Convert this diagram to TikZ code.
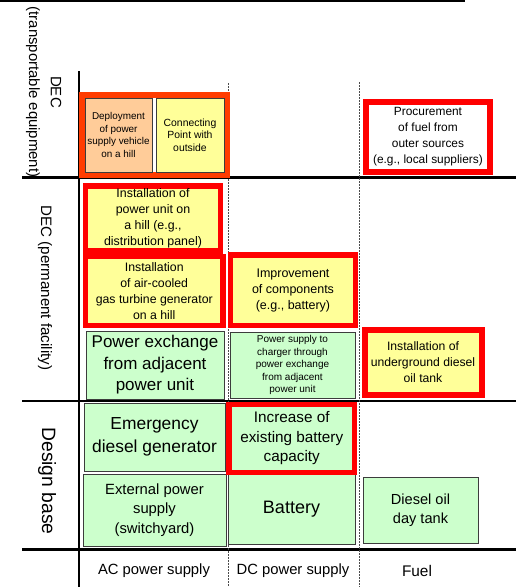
\documentclass[tikz,border=0pt]{standalone}
\usepackage{fontspec}
\setmainfont{Liberation Sans}
\newcommand\fsz[2]{\fontsize{#1}{#2}\selectfont}
\definecolor{boxyellow}{RGB}{255,255,153}
\definecolor{boxgreen}{RGB}{204,255,204}
\definecolor{boxpeach}{RGB}{255,204,153}
\definecolor{framered}{RGB}{255,0,0}
\definecolor{frameorange}{RGB}{255,60,0}
\definecolor{thinborder}{RGB}{60,60,60}
\tikzset{
  plainbox/.style={draw=thinborder,line width=0.9pt,inner sep=0pt,align=center,text=black},
  greenbox/.style={plainbox,fill=boxgreen},
  yellowbox/.style={plainbox,fill=boxyellow},
  peachbox/.style={plainbox,fill=boxpeach},
  redbox/.style={draw=framered,line width=5.5pt,inner sep=0pt,align=center,fill=boxyellow},
  axisline/.style={line width=2.5pt,black},
  dotline/.style={line width=0.8pt,draw=black!70,dash pattern=on 1.5pt off 1.5pt},
  sidelabel/.style={rotate=-90,inner sep=0pt,align=center},
  bottomlabel/.style={inner sep=0pt,font=\fsz{14.8}{18}}
}
\begin{document}
\begin{tikzpicture}[x=1pt,y=-1pt]
\useasboundingbox (0,0) rectangle (522,587);
% grid lines
\draw[line width=3pt] (0,0) -- (465,0);
\draw[axisline] (22,177.5) -- (516,177.5);
\draw[axisline] (22,401) -- (516,401);
\draw[axisline] (22,549.5) -- (516,549.5);
\draw[line width=2pt] (79,71) -- (79,587);
\draw[dotline] (228,83) -- (228,587);
\draw[dotline] (359,82) -- (359,587);

% side labels
\node[sidelabel,font=\fsz{15}{18}] (dec1) at (56,92) {DEC};
\node[sidelabel,font=\fsz{14.9}{18}] (dec1b) at (33,92) {(transportable equipment)};
\node[sidelabel,font=\fsz{15.1}{18}] (dec2) at (45,288) {DEC (permanent facility)};
\node[sidelabel,font=\fsz{19.3}{22}] (db) at (47,481) {Design base};

% DEC transportable row
\node[draw=frameorange,line width=6pt,minimum width=145pt,minimum height=79.5pt,inner sep=0pt] (frame) at (154.5,134.75) {};
\node[peachbox,minimum width=67pt,minimum height=74pt,font=\fsz{9.9}{12.7}] (deploy) at (118.5,135) {Deployment\\of power\\supply vehicle\\on a hill};
\node[yellowbox,minimum width=68pt,minimum height=74pt,font=\fsz{10.4}{12.7}] (connect) at (190,135) {Connecting\\Point with\\outside};
\node[redbox,fill=white,line width=6pt,minimum width=124pt,minimum height=70pt,font=\fsz{11.9}{16}] (procure) at (428,137) {Procurement\\of fuel from\\outer sources\\(e.g., local suppliers)};

% DEC permanent row
\node[redbox,minimum width=135pt,minimum height=65pt,font=\fsz{12.4}{16}] (inst1) at (153,218.5) {Installation of\\power unit on\\a hill (e.g.,\\distribution panel)};
\node[redbox,minimum width=137.5pt,minimum height=69pt,font=\fsz{12.3}{16}] (inst2) at (154.25,291) {Installation\\of air-cooled\\gas turbine generator\\on a hill};
\node[redbox,minimum width=125pt,minimum height=70.5pt,font=\fsz{12.5}{16}] (improve) at (293,290.25) {Improvement\\of components\\(e.g., battery)};
\node[greenbox,minimum width=138pt,minimum height=68pt,font=\fsz{17}{21.5}] (pex) at (155,365) {Power exchange\\from adjacent\\power unit};
\node[greenbox,minimum width=125pt,minimum height=66pt,font=\fsz{10}{12.5}] (charger) at (292.5,365) {Power supply to\\charger through\\power exchange\\from adjacent\\power unit};
\node[redbox,line width=6pt,minimum width=117pt,minimum height=65pt,font=\fsz{12.2}{16}] (under) at (423,362) {Installation of\\underground diesel\\oil tank};

% Design base row
\node[greenbox,minimum width=141pt,minimum height=68pt,font=\fsz{17.4}{23}] (emerg) at (154.5,437) {Emergency\\diesel generator};
\node[greenbox,minimum width=143pt,minimum height=72pt,font=\fsz{14.8}{19.2}] (ext) at (154.5,510) {External power\\supply\\(switchyard)};
\node[greenbox,minimum width=127pt,minimum height=70pt,font=\fsz{18}{22}] (battery) at (291.5,509) {Battery};
\node[redbox,fill=boxgreen,minimum width=125.5pt,minimum height=68pt,font=\fsz{15.3}{19.5}] (inc) at (291.75,438.5) {Increase of\\existing battery\\capacity};
\node[greenbox,minimum width=115pt,minimum height=66pt,font=\fsz{14.6}{19.3}] (dtank) at (420.5,510) {Diesel oil\\day tank};

% bottom labels
\node[bottomlabel] (ac) at (154,571) {AC power supply};
\node[bottomlabel] (dc) at (293,571) {DC power supply};
\node[bottomlabel,font=\fsz{15.4}{18}] (fuel) at (417,571) {Fuel};
\end{tikzpicture}
\end{document}
